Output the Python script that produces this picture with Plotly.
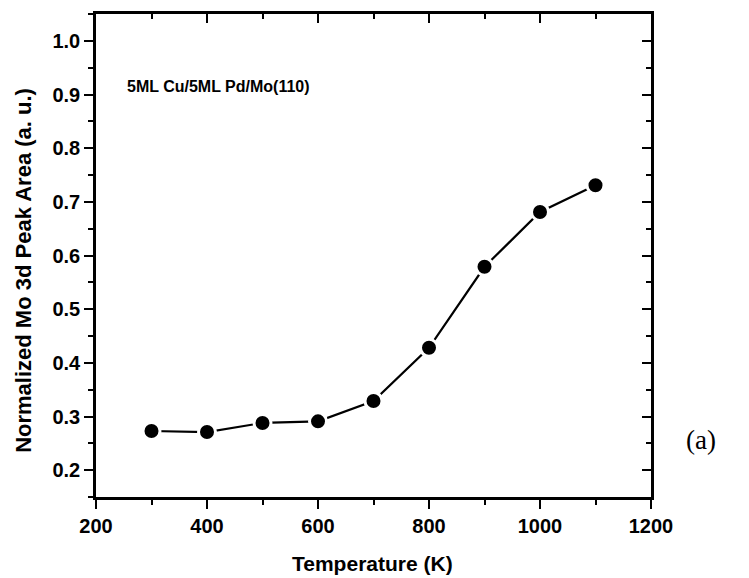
import plotly.graph_objects as go

# Annealing temperature (K) and normalized Mo 3d peak area
temperature = [300, 400, 500, 600, 700, 800, 900, 1000, 1100]
mo3d_area = [0.273, 0.271, 0.288, 0.291, 0.329, 0.428, 0.579, 0.681, 0.731]

x_range = [200, 1200]
y_range = [0.15, 1.05]
x_ticks = [200, 400, 600, 800, 1000, 1200]
y_ticks = [0.2, 0.3, 0.4, 0.5, 0.6, 0.7, 0.8, 0.9, 1.0]

FONT = "Liberation Sans, Arial, sans-serif"

fig = go.Figure()
fig.add_trace(go.Scatter(
    x=temperature, y=mo3d_area, mode="lines+markers",
    line=dict(color="black", width=2.2),
    marker=dict(color="black", size=17, line=dict(color="white", width=3)),
    showlegend=False, hoverinfo="x+y",
))
# invisible trace to anchor the top/right frame axes
fig.add_trace(go.Scatter(x=x_range, y=y_range, xaxis="x2", yaxis="y2",
                         mode="none", showlegend=False, hoverinfo="skip"))

tickfont = dict(family=FONT, size=20, color="black", weight="bold")
common = dict(showgrid=False, zeroline=False, showline=True, linecolor="black",
              linewidth=2.5, tickcolor="black", tickwidth=2)

fig.update_layout(
    width=749, height=578,
    margin=dict(l=96, r=98, t=14, b=81),
    plot_bgcolor="white", paper_bgcolor="white",
    font=dict(family=FONT, color="black"),
    xaxis=dict(range=x_range, tickvals=x_ticks, ticks="outside", ticklen=9,
               minor=dict(dtick=100, ticks="outside", ticklen=5, tickwidth=2, tickcolor="black"),
               tickfont=tickfont, **common),
    yaxis=dict(range=y_range, tickvals=y_ticks, tickformat=".1f", ticks="outside", ticklen=9,
               minor=dict(dtick=0.05, ticks="outside", ticklen=5, tickwidth=2, tickcolor="black"),
               tickfont=tickfont, **common),
    xaxis2=dict(range=x_range, overlaying="x", side="top", anchor="y2",
                tickvals=x_ticks, ticks="inside", ticklen=9, showticklabels=False,
                minor=dict(dtick=100, ticks="inside", ticklen=5, tickwidth=2, tickcolor="black"),
                **common),
    yaxis2=dict(range=y_range, overlaying="y", side="right", anchor="x2",
                tickvals=y_ticks, ticks="inside", ticklen=9, showticklabels=False,
                minor=dict(dtick=0.05, ticks="inside", ticklen=5, tickwidth=2, tickcolor="black"),
                **common),
    annotations=[
        # axis titles
        dict(text="Temperature (K)", xref="paper", yref="paper",
             x=0.498, y=-0.137, xanchor="center", yanchor="middle", showarrow=False,
             font=dict(family=FONT, size=21, color="black", weight="bold")),
        dict(text="Normalized Mo 3d Peak Area (a. u.)", xref="paper", yref="paper",
             x=-0.13, y=0.47, xanchor="center", yanchor="middle", showarrow=False,
             textangle=-90,
             font=dict(family=FONT, size=22, color="black", weight="bold")),
        # sample label and panel tag
        dict(text="<b>5ML Cu/5ML Pd/Mo(110)</b>", xref="paper", yref="paper",
             x=0.052, y=0.85, xanchor="left", yanchor="middle", showarrow=False,
             font=dict(family=FONT, size=16, color="black")),
        dict(text="(a)", xref="paper", yref="paper", x=1.06, y=0.118,
             xanchor="left", yanchor="middle", showarrow=False,
             font=dict(family="Liberation Serif, Times New Roman, serif", size=27, color="black")),
    ],
)

fig.write_html("out.html")
